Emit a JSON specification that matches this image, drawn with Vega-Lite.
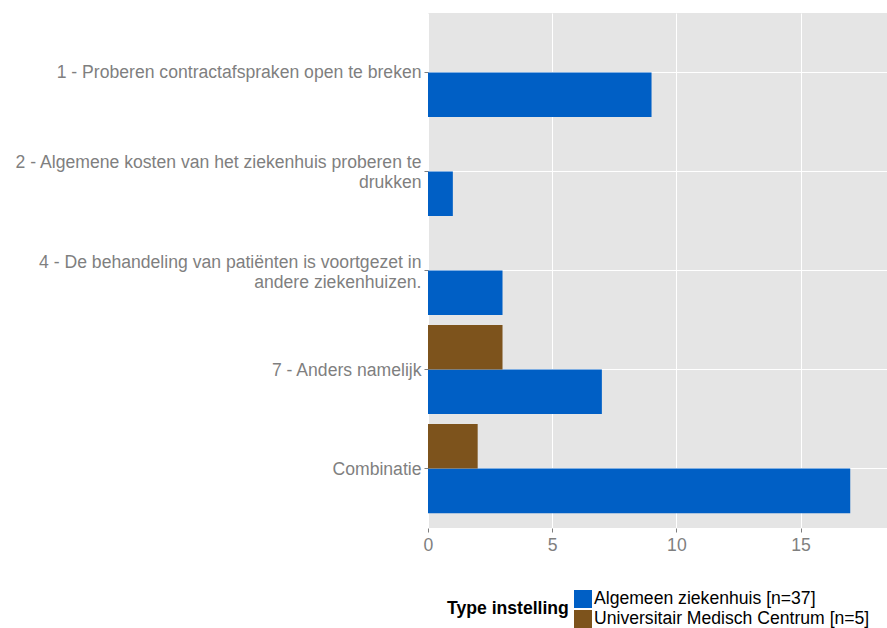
{
  "$schema": "https://vega.github.io/schema/vega-lite/v6.json",
  "width": 459,
  "height": 515,
  "autosize": {"type": "none"},
  "padding": {"left": 428, "top": 13, "right": 0, "bottom": 100},
  "background": "white",
  "config": {
    "font": "Liberation Sans",
    "view": {"fill": "#E5E5E5", "stroke": null}
  },
  "data": {
    "values": [
      {"categorie": "1 - Proberen contractafspraken open te breken", "type": "Algemeen ziekenhuis [n=37]", "aantal": 9},
      {"categorie": "2 - Algemene kosten van het ziekenhuis proberen te drukken", "type": "Algemeen ziekenhuis [n=37]", "aantal": 1},
      {"categorie": "4 - De behandeling van patiënten is voortgezet in andere ziekenhuizen.", "type": "Algemeen ziekenhuis [n=37]", "aantal": 3},
      {"categorie": "7 - Anders namelijk", "type": "Algemeen ziekenhuis [n=37]", "aantal": 7},
      {"categorie": "7 - Anders namelijk", "type": "Universitair Medisch Centrum [n=5]", "aantal": 3},
      {"categorie": "Combinatie", "type": "Algemeen ziekenhuis [n=37]", "aantal": 17},
      {"categorie": "Combinatie", "type": "Universitair Medisch Centrum [n=5]", "aantal": 2}
    ]
  },
  "mark": {"type": "bar"},
  "encoding": {
    "y": {
      "field": "categorie",
      "type": "nominal",
      "sort": [
        "1 - Proberen contractafspraken open te breken",
        "2 - Algemene kosten van het ziekenhuis proberen te drukken",
        "4 - De behandeling van patiënten is voortgezet in andere ziekenhuizen.",
        "7 - Anders namelijk",
        "Combinatie"
      ],
      "scale": {"paddingInner": 0.1, "paddingOuter": 0.15},
      "axis": {
        "title": null,
        "domain": false,
        "bandPosition": 0.5,
        "grid": true,
        "gridColor": "white",
        "gridWidth": 1,
        "tickColor": "#7F7F7F",
        "tickSize": 4,
        "labelPadding": 3,
        "labelColor": "#7F7F7F",
        "labelFontSize": 17.6,
        "labelFont": "Liberation Sans",
        "labelLimit": 1000,
        "labelLineHeight": 20,
        "labelOffset": {"condition": {"test": "indexof(datum.value, 'drukken') >= 0 || indexof(datum.value, 'ziekenhuizen.') >= 0", "value": -8}, "value": 1},
        "labelExpr": "datum.label == '2 - Algemene kosten van het ziekenhuis proberen te drukken' ? ['2 - Algemene kosten van het ziekenhuis proberen te', 'drukken'] : datum.label == '4 - De behandeling van patiënten is voortgezet in andere ziekenhuizen.' ? ['4 - De behandeling van patiënten is voortgezet in', 'andere ziekenhuizen.'] : datum.label"
      }
    },
    "yOffset": {
      "field": "type",
      "type": "nominal",
      "scale": {"domain": ["Universitair Medisch Centrum [n=5]", "Algemeen ziekenhuis [n=37]"], "paddingInner": 0, "paddingOuter": 0}
    },
    "x": {
      "field": "aantal",
      "type": "quantitative",
      "scale": {"domain": [0, 18.48], "nice": false, "zero": true},
      "axis": {
        "title": null,
        "domain": false,
        "values": [0, 5, 10, 15],
        "grid": true,
        "gridColor": "white",
        "gridWidth": 1,
        "tickColor": "#7F7F7F",
        "tickSize": 4,
        "labelFlush": false,
        "labelPadding": 4,
        "labelColor": "#7F7F7F",
        "labelFontSize": 17.6,
        "labelFont": "Liberation Sans"
      }
    },
    "color": {
      "field": "type",
      "type": "nominal",
      "scale": {
        "domain": ["Algemeen ziekenhuis [n=37]", "Universitair Medisch Centrum [n=5]"],
        "range": ["#005FC5", "#7D531C"]
      },
      "legend": {
        "orient": "none",
        "legendX": 19,
        "legendY": 577,
        "direction": "vertical",
        "title": "Type instelling",
        "titleOrient": "left",
        "titleAngle": 0,
        "titleAnchor": "middle",
        "titleBaseline": "middle",
        "titleFont": "Liberation Sans",
        "titleFontSize": 17.6,
        "titleFontWeight": "bold",
        "titleColor": "black",
        "titlePadding": 5,
        "symbolType": "square",
        "symbolSize": 324,
        "symbolStrokeWidth": 0,
        "symbolOpacity": 1,
        "rowPadding": 2,
        "labelFont": "Liberation Sans",
        "labelFontSize": 17.6,
        "labelColor": "black",
        "labelOffset": 2,
        "labelLimit": 1000
      }
    }
  }
}
